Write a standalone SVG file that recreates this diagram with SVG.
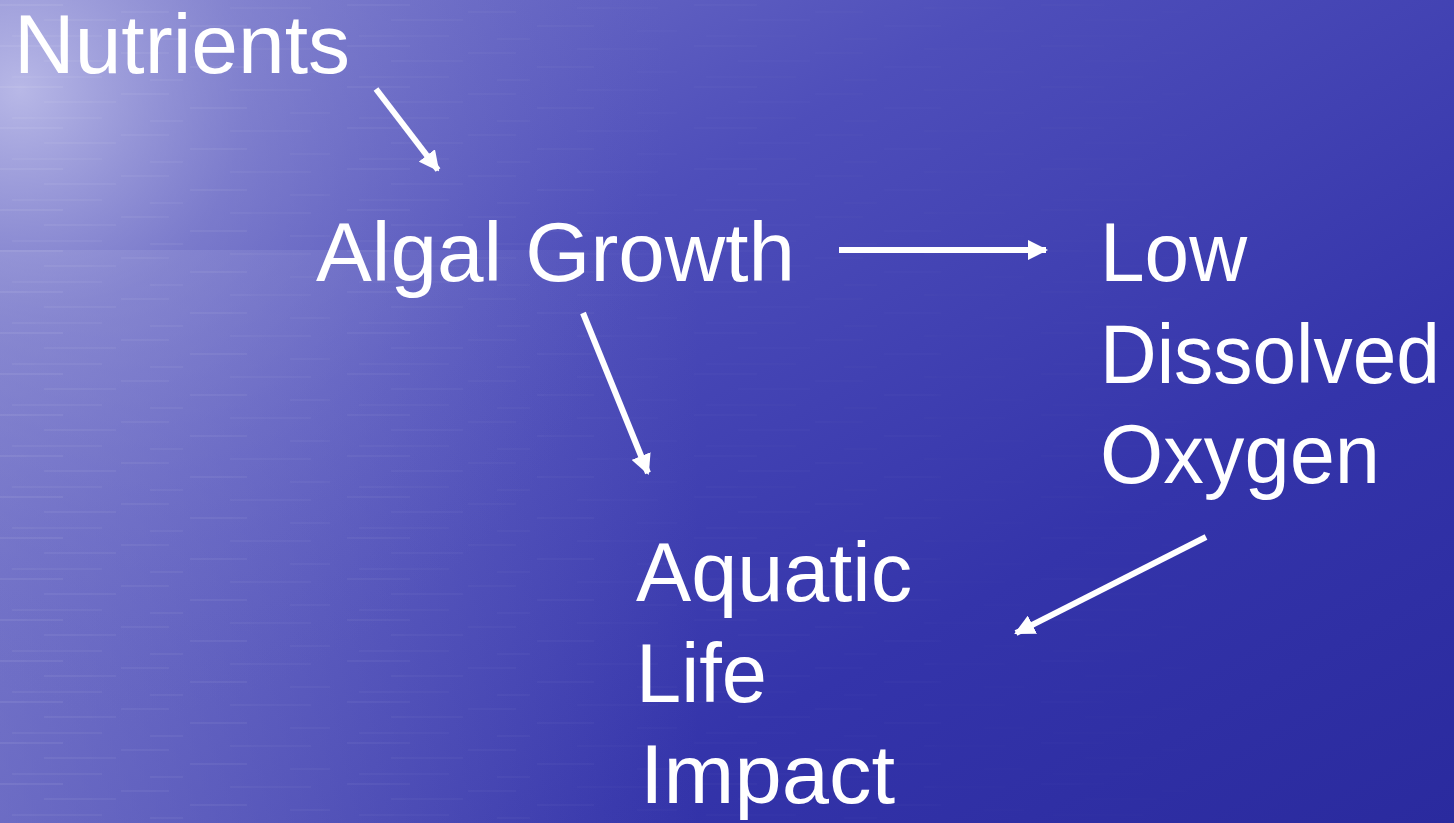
<svg xmlns="http://www.w3.org/2000/svg" width="1454" height="823" viewBox="0 0 1454 823">
  <defs>
    <linearGradient id="bg" x1="0" y1="0" x2="1" y2="1">
      <stop offset="0" stop-color="#7c7ccc"/>
      <stop offset="0.35" stop-color="#4e4eba"/>
      <stop offset="0.7" stop-color="#3434aa"/>
      <stop offset="1" stop-color="#2a2a9e"/>
    </linearGradient>
    <radialGradient id="glow" cx="20" cy="90" r="650" gradientUnits="userSpaceOnUse">
      <stop offset="0" stop-color="#c4c4ec" stop-opacity="0.85"/>
      <stop offset="0.35" stop-color="#9a9ad8" stop-opacity="0.45"/>
      <stop offset="1" stop-color="#6a6ac4" stop-opacity="0"/>
    </radialGradient>
    <linearGradient id="left" x1="0" y1="0" x2="1" y2="0">
      <stop offset="0" stop-color="#8e8ed2" stop-opacity="0.55"/>
      <stop offset="1" stop-color="#8e8ed2" stop-opacity="0"/>
    </linearGradient>
    <pattern id="ripples" width="347" height="41" patternUnits="userSpaceOnUse">
      <rect x="0" y="4" width="63" height="2" fill="#ffffff" opacity="0.07"/>
      <rect x="121" y="11" width="48" height="2" fill="#ffffff" opacity="0.06"/>
      <rect x="230" y="7" width="81" height="2" fill="#ffffff" opacity="0.05"/>
      <rect x="44" y="19" width="72" height="2" fill="#ffffff" opacity="0.06"/>
      <rect x="190" y="25" width="57" height="2" fill="#ffffff" opacity="0.07"/>
      <rect x="290" y="30" width="40" height="2" fill="#ffffff" opacity="0.05"/>
      <rect x="12" y="35" width="90" height="2" fill="#ffffff" opacity="0.05"/>
      <rect x="150" y="38" width="33" height="2" fill="#ffffff" opacity="0.06"/>
    </pattern>
    <linearGradient id="ripfade" x1="0" y1="0" x2="1" y2="0">
      <stop offset="0" stop-color="#fff" stop-opacity="1"/>
      <stop offset="0.45" stop-color="#fff" stop-opacity="0.3"/>
      <stop offset="1" stop-color="#fff" stop-opacity="0"/>
    </linearGradient>
    <mask id="ripmask">
      <rect width="1454" height="823" fill="url(#ripfade)"/>
    </mask>
    <marker id="ah" viewBox="0 0 10 10" refX="9" refY="5" markerWidth="3.4" markerHeight="3.4" orient="auto" markerUnits="strokeWidth">
      <path d="M0,0 L10,5 L0,10 z" fill="#ffffff"/>
    </marker>
    <style>
      .lbl { font-family: "Liberation Sans", Arial, sans-serif; font-size: 83px; fill: #ffffff; }
      .con { stroke: #ffffff; stroke-width: 6; fill: none; marker-end: url(#ah); }
    </style>
  </defs>

  <rect width="1454" height="823" fill="url(#bg)"/>
  <rect x="0" y="250" width="700" height="573" fill="url(#left)"/>
  <rect width="1454" height="823" fill="url(#glow)"/>
  <rect width="1454" height="823" fill="url(#ripples)" mask="url(#ripmask)"/>

  <g id="connectors">
    <line class="con" x1="376" y1="89" x2="438" y2="170"/>
    <line class="con" x1="839" y1="250" x2="1046" y2="250"/>
    <line class="con" x1="583" y1="313" x2="648" y2="473"/>
    <line class="con" x1="1206" y1="537" x2="1016" y2="633"/>
  </g>

  <g id="nutrients">
    <text class="lbl" x="14" y="73" textLength="336" lengthAdjust="spacingAndGlyphs">Nutrients</text>
  </g>
  <g id="algal-growth">
    <text class="lbl" x="316" y="281" textLength="479" lengthAdjust="spacingAndGlyphs">Algal Growth</text>
  </g>
  <g id="low-dissolved-oxygen">
    <text class="lbl" x="1100" y="281" textLength="147" lengthAdjust="spacingAndGlyphs">Low</text>
    <text class="lbl" x="1100" y="383" textLength="340" lengthAdjust="spacingAndGlyphs">Dissolved</text>
    <text class="lbl" x="1100" y="483" textLength="280" lengthAdjust="spacingAndGlyphs">Oxygen</text>
  </g>
  <g id="aquatic-life-impact">
    <text class="lbl" x="636" y="601" textLength="276" lengthAdjust="spacingAndGlyphs">Aquatic</text>
    <text class="lbl" x="636" y="702" textLength="131" lengthAdjust="spacingAndGlyphs">Life</text>
    <text class="lbl" x="640" y="803" textLength="255" lengthAdjust="spacingAndGlyphs">Impact</text>
  </g>
</svg>
